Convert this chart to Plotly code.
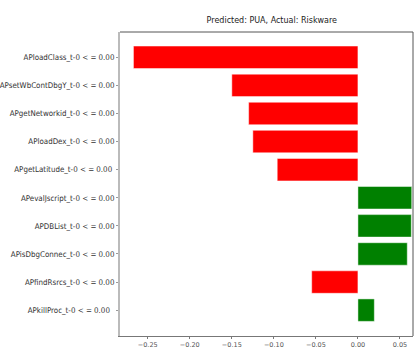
import plotly.graph_objects as go

# feature rules, top to bottom as drawn
features = [
    "APloadClass_t-0 < = 0.00",
    "APsetWbContDbgY_t-0 < = 0.00",
    "APgetNetworkid_t-0 < = 0.00",
    "APloadDex_t-0 < = 0.00",
    "APgetLatitude_t-0 < = 0.00\u00a0",
    "APevalJscript_t-0 < = 0.00",
    "APDBList_t-0 < = 0.00",
    "APisDbgConnec_t-0 < = 0.00",
    "APfindRsrcs_t-0 < = 0.00",
    "APkillProc_t-0 < = 0.00\u00a0\u00a0",
]
weights = [-0.267, -0.150, -0.130, -0.125, -0.096, 0.064, 0.0635, 0.0587, -0.055, 0.0195]
tick_vals = [-0.25, -0.20, -0.15, -0.10, -0.05, 0.00, 0.05]

colors = ["#008000" if w > 0 else "#ff0000" for w in weights]
pos = list(range(len(features)))

fig = go.Figure()
fig.add_trace(go.Bar(
    x=weights,
    y=pos,
    orientation="h",
    marker=dict(color=colors, line=dict(color="rgba(255,255,255,0.6)", width=0.8)),
    width=0.8,
))

fig.update_layout(
    width=415, height=348,
    margin=dict(l=120, r=2, t=32, b=12, autoexpand=False),
    paper_bgcolor="white", plot_bgcolor="white",
    showlegend=False,
    font=dict(family="DejaVu Sans", color="#333333"),
    title=dict(text="Predicted: PUA, Actual: Riskware", x=0.655, xanchor="center",
               y=0.943, yanchor="middle", font=dict(size=8, color="#222222")),
    bargap=0.2,
)
fig.update_xaxes(
    range=[-0.283, 0.0655],
    tickvals=tick_vals,
    ticktext=["\u22120.25", "\u22120.20", "\u22120.15", "\u22120.10", "\u22120.05", "0.00", "0.05"],
    tickfont=dict(size=6.5, color="#555555"),
    ticks="outside", ticklen=2, tickcolor="#777777",
    showgrid=False, zeroline=False, automargin=False,
    showline=True, linecolor="#777777", linewidth=1, mirror=False,
)
fig.update_yaxes(
    range=[9.92, -0.9],
    tickvals=pos, ticktext=features,
    tickfont=dict(family="DejaVu Sans Condensed", size=7.9, color="#333333"),
    ticks="outside", ticklen=2, tickcolor="#999999",
    showgrid=False, zeroline=False, automargin=False,
    showline=True, linecolor="#bbbbbb", linewidth=2,
)
# top and right frame lines
fig.add_shape(type="line", xref="paper", yref="paper", x0=0, x1=1, y0=1, y1=1,
              line=dict(color="#555555", width=1))
fig.add_shape(type="line", xref="paper", yref="paper", x0=1, x1=1, y0=0, y1=1,
              line=dict(color="#555555", width=1))

# drop the default page margin so the figure sits at the window corner
fig.write_html("out.html", config={"displayModeBar": False},
               post_script="document.body.style.margin='0';document.body.style.overflow='hidden';")
